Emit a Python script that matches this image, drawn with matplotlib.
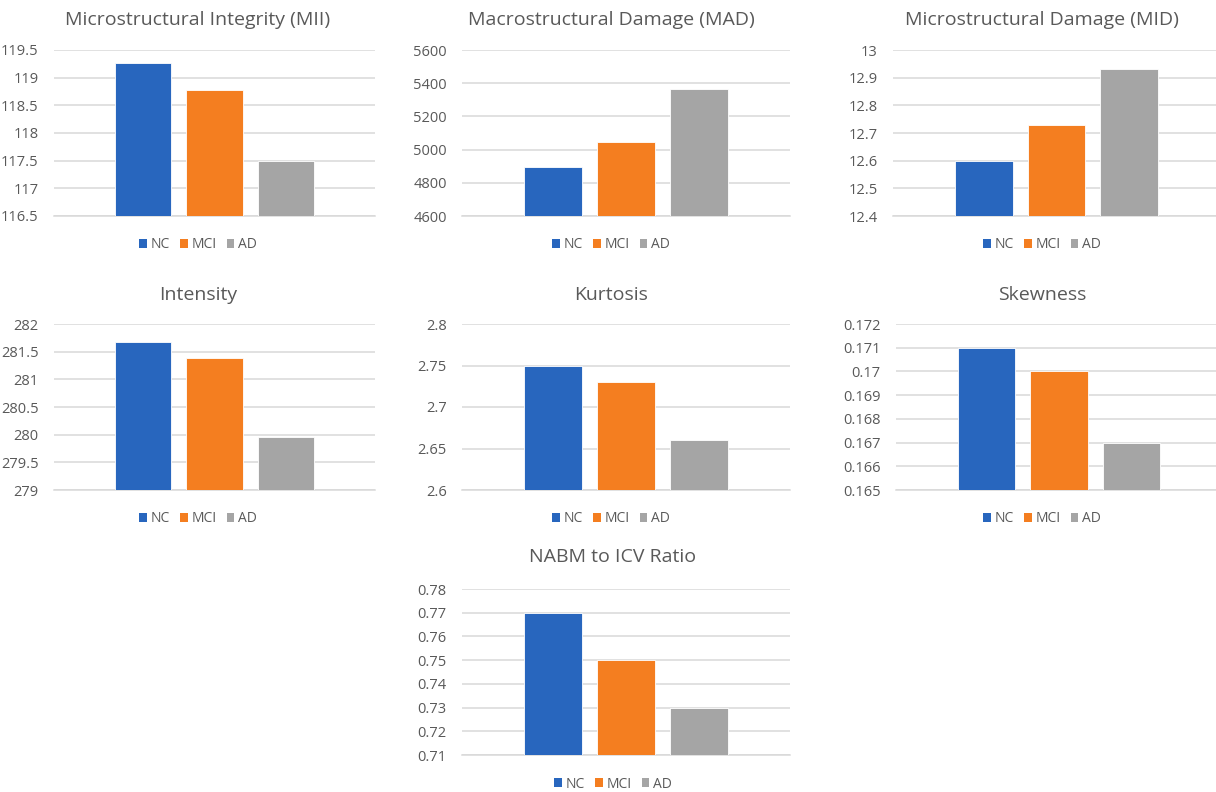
import numpy as np
import matplotlib
matplotlib.use('Agg')
import matplotlib.pyplot as plt
from matplotlib.patches import Patch

# ================================
# Data
# ================================
GROUPS = ['NC', 'MCI', 'AD']
COLORS = ['#2866BE', '#F47E20', '#A5A5A5']

TITLES = [
    'Microstructural Integrity (MII)',
    'Macrostructural Damage (MAD)',
    'Microstructural Damage (MID)',
    'Intensity',
    'Kurtosis',
    'Skewness',
    'NABM to ICV Ratio',
]

mii = [119.27, 118.78, 117.5]
mad = [4895, 5045, 5367]
mid = [12.6, 12.73, 12.93]
intensity = [281.67, 281.39, 279.95]
kurtosis = [2.75, 2.73, 2.66]
skewness = [0.171, 0.170, 0.167]
nabm_icv = [0.77, 0.75, 0.73]

# y-axis range and tick step for each chart
y_min = [116.5, 4600, 12.4, 279, 2.6, 0.165, 0.71]
y_max = [119.5, 5600, 13.0, 282, 2.8, 0.172, 0.78]
y_step = [0.5, 200, 0.1, 0.5, 0.05, 0.001, 0.01]

SERIES = [mii, mad, mid, intensity, kurtosis, skewness, nabm_icv]

# ================================
# Layout (pixels in a 1216x792 canvas)
# ================================
W, H = 1216, 792
# (plot left, plot right, plot top, plot bottom, chart-area center x, title y, legend y)
PANELS = [
    (54, 375, 50, 216, 198, 20, 245),
    (462, 790, 50, 216, 611, 20, 245),
    (893, 1220, 50, 216, 1042, 20, 245),
    (54, 375, 324, 490, 198, 295, 519),
    (462, 790, 324, 490, 611, 295, 519),
    (896, 1222, 324, 490, 1042, 295, 519),
    (462, 790, 589, 755, 613, 557, 784),
]

TEXT_COLOR = '#595959'
GRID_COLOR = '#D9D9D9'
plt.rcParams['font.family'] = ['Open Sans', 'DejaVu Sans']

fig = plt.figure(figsize=(W / 100, H / 100), dpi=100)
fig.patch.set_facecolor('white')

x = np.arange(len(GROUPS))
handles = [Patch(facecolor=c, edgecolor='none', label=g) for g, c in zip(GROUPS, COLORS)]

for i, (vals, title) in enumerate(zip(SERIES, TITLES)):
    left, right, top, bottom, cx, ty, ly = PANELS[i]
    ax = fig.add_axes([left / W, 1 - bottom / H, (right - left) / W, (bottom - top) / H])

    ax.bar(x, vals, width=0.79, color=COLORS, edgecolor='white', linewidth=0.6,
           bottom=0, zorder=3)
    ax.set_xlim(-1.25, 3.25)
    ax.set_ylim(y_min[i], y_max[i])

    n_ticks = int(round((y_max[i] - y_min[i]) / y_step[i])) + 1
    ticks = [round(y_min[i] + k * y_step[i], 6) for k in range(n_ticks)]
    ax.set_yticks(ticks)
    ax.set_yticklabels([f'{t:g}' for t in ticks])
    ax.set_xticks([])

    ax.grid(axis='y', color=GRID_COLOR, linewidth=1.1, zorder=0)
    ax.set_axisbelow(True)
    for side in ['top', 'right', 'left']:
        ax.spines[side].set_visible(False)
    ax.spines['bottom'].set_color(GRID_COLOR)
    ax.spines['bottom'].set_linewidth(1.1)
    ax.tick_params(axis='y', length=0, pad=11, labelsize=10.5, labelcolor=TEXT_COLOR)

    # title and legend centred on the whole chart area
    fig.text(cx / W, 1 - ty / H, title, ha='center', va='center',
             fontsize=14, color=TEXT_COLOR)
    fig.legend(handles=handles, loc='center', bbox_to_anchor=(cx / W, 1 - ly / H),
               ncol=3, frameon=False, fontsize=10, labelcolor=TEXT_COLOR,
               handlelength=0.55, handleheight=0.55, handletextpad=0.25,
               columnspacing=0.75, borderpad=0.2)

fig.savefig('out.png', dpi=100, facecolor='white')
